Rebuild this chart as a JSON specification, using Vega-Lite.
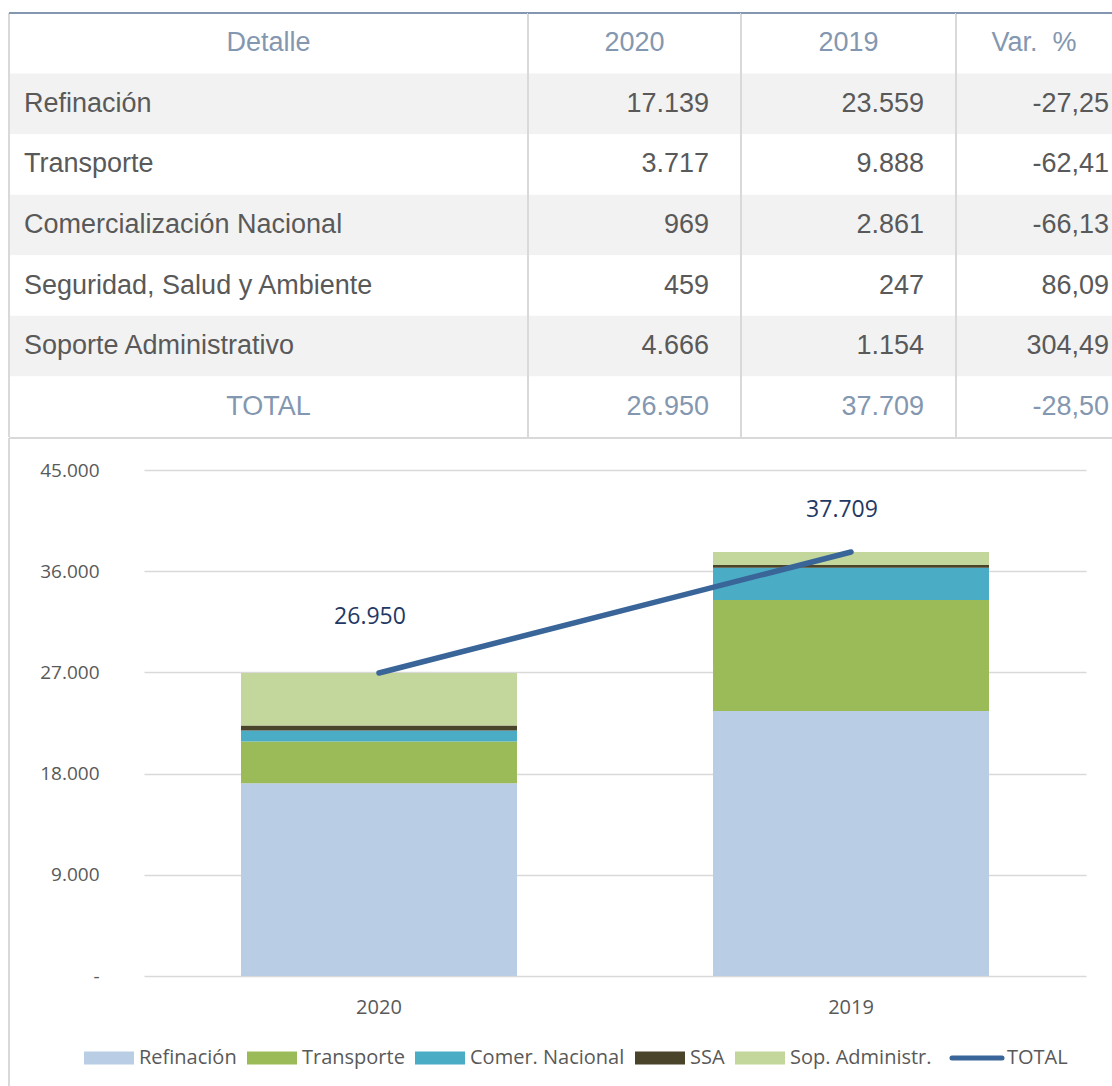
{
  "$schema": "https://vega.github.io/schema/vega-lite/v6.json",
  "padding": {"left": 8, "top": 12, "right": 0, "bottom": 0},
  "spacing": -1,
  "datasets": {
    "costs": [
      {"detalle": "Refinación", "short": "Refinación", "k": 1, "2020": 17139, "2019": 23559, "var": -27.25},
      {"detalle": "Transporte", "short": "Transporte", "k": 2, "2020": 3717, "2019": 9888, "var": -62.41},
      {"detalle": "Comercialización Nacional", "short": "Comer. Nacional", "k": 3, "2020": 969, "2019": 2861, "var": -66.13},
      {"detalle": "Seguridad, Salud y Ambiente", "short": "SSA", "k": 4, "2020": 459, "2019": 247, "var": 86.09},
      {"detalle": "Soporte Administrativo", "short": "Sop. Administr.", "k": 5, "2020": 4666, "2019": 1154, "var": 304.49},
      {"detalle": "TOTAL", "short": "TOTAL", "k": 6, "2020": 26950, "2019": 37709, "var": -28.5}
    ]
  },
  "vconcat": [
    {
      "hconcat": [
        {
          "width": 519, "height": 424,
          "layer": [
            {"data": {"name": "costs"}, "mark": {"type": "rect"},
             "encoding": {
               "y": {"field": "detalle", "type": "nominal", "scale": {"domain": ["Detalle", "Refinación", "Transporte", "Comercialización Nacional", "Seguridad, Salud y Ambiente", "Soporte Administrativo", "TOTAL"], "paddingInner": 0, "paddingOuter": 0}, "axis": null},
               "x": {"value": 0}, "x2": {"value": "width"},
               "fill": {"condition": {"test": "indexof(['Refinación','Comercialización Nacional','Soporte Administrativo'], datum.detalle) >= 0", "value": "#F2F2F2"}, "value": "#FFFFFF"}
             }},
            {"data": {"values": [{}]}, "mark": {"type": "text", "font": "Liberation Sans", "fontSize": 27, "color": "#8497B0", "baseline": "middle"},
             "encoding": {"y": {"datum": "Detalle", "type": "nominal"}, "text": {"value": "Detalle"}}},
            {"data": {"name": "costs"}, "transform": [{"filter": "datum.detalle !== 'TOTAL'"}],
             "mark": {"type": "text", "font": "Liberation Sans", "fontSize": 27, "color": "#595959", "baseline": "middle", "align": "left", "x": 0, "dx": 15},
             "encoding": {"y": {"field": "detalle", "type": "nominal"}, "text": {"field": "detalle"}}},
            {"data": {"name": "costs"}, "transform": [{"filter": "datum.detalle === 'TOTAL'"}],
             "mark": {"type": "text", "font": "Liberation Sans", "fontSize": 27, "color": "#8497B0", "baseline": "middle", "align": "center"},
             "encoding": {"y": {"field": "detalle", "type": "nominal"}, "text": {"field": "detalle"}}},
            {"data": {"values": [{}]}, "mark": {"type": "rule", "color": "#D9D9D9", "strokeWidth": 2}, "encoding": {"x": {"value": 0}}},
            {"data": {"values": [{}]}, "mark": {"type": "rule", "color": "#8497B0", "strokeWidth": 2}, "encoding": {"y": {"value": 0}}}
          ]
        },
        {
          "width": 213, "height": 424,
          "layer": [
            {"data": {"name": "costs"}, "mark": {"type": "rect"},
             "encoding": {
               "y": {"field": "detalle", "type": "nominal", "scale": {"domain": ["Detalle", "Refinación", "Transporte", "Comercialización Nacional", "Seguridad, Salud y Ambiente", "Soporte Administrativo", "TOTAL"], "paddingInner": 0, "paddingOuter": 0}, "axis": null},
               "x": {"value": 0}, "x2": {"value": "width"},
               "fill": {"condition": {"test": "indexof(['Refinación','Comercialización Nacional','Soporte Administrativo'], datum.detalle) >= 0", "value": "#F2F2F2"}, "value": "#FFFFFF"}
             }},
            {"data": {"values": [{}]}, "mark": {"type": "text", "font": "Liberation Sans", "fontSize": 27, "color": "#8497B0", "baseline": "middle"},
             "encoding": {"y": {"datum": "Detalle", "type": "nominal"}, "text": {"value": "2020"}}},
            {"data": {"name": "costs"},
             "mark": {"type": "text", "font": "Liberation Sans", "fontSize": 27, "baseline": "middle", "align": "right", "x": "width", "dx": -32},
             "encoding": {"y": {"field": "detalle", "type": "nominal"}, "text": {"field": "2020", "type": "quantitative", "format": ",d"},
               "color": {"condition": {"test": "datum.detalle === 'TOTAL'", "value": "#8497B0"}, "value": "#595959"}}},
            {"data": {"values": [{}]}, "mark": {"type": "rule", "color": "#D9D9D9", "strokeWidth": 2}, "encoding": {"x": {"value": 0}}},
            {"data": {"values": [{}]}, "mark": {"type": "rule", "color": "#8497B0", "strokeWidth": 2}, "encoding": {"y": {"value": 0}}}
          ]
        },
        {
          "width": 215, "height": 424,
          "layer": [
            {"data": {"name": "costs"}, "mark": {"type": "rect"},
             "encoding": {
               "y": {"field": "detalle", "type": "nominal", "scale": {"domain": ["Detalle", "Refinación", "Transporte", "Comercialización Nacional", "Seguridad, Salud y Ambiente", "Soporte Administrativo", "TOTAL"], "paddingInner": 0, "paddingOuter": 0}, "axis": null},
               "x": {"value": 0}, "x2": {"value": "width"},
               "fill": {"condition": {"test": "indexof(['Refinación','Comercialización Nacional','Soporte Administrativo'], datum.detalle) >= 0", "value": "#F2F2F2"}, "value": "#FFFFFF"}
             }},
            {"data": {"values": [{}]}, "mark": {"type": "text", "font": "Liberation Sans", "fontSize": 27, "color": "#8497B0", "baseline": "middle"},
             "encoding": {"y": {"datum": "Detalle", "type": "nominal"}, "text": {"value": "2019"}}},
            {"data": {"name": "costs"},
             "mark": {"type": "text", "font": "Liberation Sans", "fontSize": 27, "baseline": "middle", "align": "right", "x": "width", "dx": -32},
             "encoding": {"y": {"field": "detalle", "type": "nominal"}, "text": {"field": "2019", "type": "quantitative", "format": ",d"},
               "color": {"condition": {"test": "datum.detalle === 'TOTAL'", "value": "#8497B0"}, "value": "#595959"}}},
            {"data": {"values": [{}]}, "mark": {"type": "rule", "color": "#D9D9D9", "strokeWidth": 2}, "encoding": {"x": {"value": 0}}},
            {"data": {"values": [{}]}, "mark": {"type": "rule", "color": "#8497B0", "strokeWidth": 2}, "encoding": {"y": {"value": 0}}}
          ]
        },
        {
          "width": 156, "height": 424,
          "layer": [
            {"data": {"name": "costs"}, "mark": {"type": "rect"},
             "encoding": {
               "y": {"field": "detalle", "type": "nominal", "scale": {"domain": ["Detalle", "Refinación", "Transporte", "Comercialización Nacional", "Seguridad, Salud y Ambiente", "Soporte Administrativo", "TOTAL"], "paddingInner": 0, "paddingOuter": 0}, "axis": null},
               "x": {"value": 0}, "x2": {"value": "width"},
               "fill": {"condition": {"test": "indexof(['Refinación','Comercialización Nacional','Soporte Administrativo'], datum.detalle) >= 0", "value": "#F2F2F2"}, "value": "#FFFFFF"}
             }},
            {"data": {"values": [{}]}, "mark": {"type": "text", "font": "Liberation Sans", "fontSize": 27, "color": "#8497B0", "baseline": "middle"},
             "encoding": {"y": {"datum": "Detalle", "type": "nominal"}, "text": {"value": "Var. \u00a0%"}}},
            {"data": {"name": "costs"},
             "mark": {"type": "text", "font": "Liberation Sans", "fontSize": 27, "baseline": "middle", "align": "right", "x": "width", "dx": -3},
             "encoding": {"y": {"field": "detalle", "type": "nominal"}, "text": {"field": "var", "type": "quantitative", "format": ".2f"},
               "color": {"condition": {"test": "datum.detalle === 'TOTAL'", "value": "#8497B0"}, "value": "#595959"}}},
            {"data": {"values": [{}]}, "mark": {"type": "rule", "color": "#D9D9D9", "strokeWidth": 2}, "encoding": {"x": {"value": 0}}},
            {"data": {"values": [{}]}, "mark": {"type": "rule", "color": "#8497B0", "strokeWidth": 2}, "encoding": {"y": {"value": 0}}}
          ]
        }
      ],
      "spacing": 0,
      "bounds": "flush"
    },
    {
      "width": 1103,
      "height": 648,
      "layer": [
        {"data": {"values": [{}]}, "mark": {"type": "rule", "color": "#D9D9D9", "strokeWidth": 2}, "encoding": {"x": {"value": 0}}},
        {"data": {"values": [{}]}, "mark": {"type": "rule", "color": "#D9D9D9", "strokeWidth": 2}, "encoding": {"y": {"value": 0}}},
        {
          "data": {"name": "costs"},
          "transform": [{"filter": "datum.detalle !== 'TOTAL'"}, {"fold": ["2020", "2019"], "as": ["year", "value"]}],
          "mark": {"type": "bar"},
          "encoding": {
            "x": {"field": "year", "type": "nominal", "scale": {"domain": ["2020", "2019"], "range": [135, 1077], "paddingInner": 0.4153, "paddingOuter": 0.2055},
                  "axis": {"title": null, "domain": false, "ticks": false, "labelAngle": 0, "offset": -79, "labelPadding": 0, "labelBaseline": "middle", "labelFont": "Open Sans", "labelFontSize": 20, "labelColor": "#595959"}},
            "y": {"field": "value", "type": "quantitative", "stack": "zero", "scale": {"domain": [0, 45000], "range": [538, 32]},
                  "axis": {"title": null, "orient": "left", "offset": -135, "domain": false, "ticks": false, "labelPadding": 45, "values": [0, 9000, 18000, 27000, 36000, 45000], "format": ",d", "labelExpr": "datum.value === 0 ? '-\u00a0' : datum.label", "labelFont": "Open Sans", "labelFontSize": 19, "labelColor": "#595959", "grid": true, "gridColor": "#D9D9D9", "gridWidth": 1.5}},
            "color": {"field": "short", "type": "nominal",
                      "scale": {"domain": ["Refinación", "Transporte", "Comer. Nacional", "SSA", "Sop. Administr.", "TOTAL"], "range": ["#B9CDE5", "#9BBB59", "#4BACC6", "#4A452A", "#C3D69B", "#3A6599"]},
                      "legend": {"title": null, "orient": "none", "direction": "horizontal", "legendX": 75, "legendY": 1035, "labelFont": "Open Sans", "labelFontSize": 20, "labelColor": "#595959", "symbolSize": 2500, "labelOffset": 5, "columnPadding": 10, "symbolType": "M-1,-0.26H1V0.26H-1Z",
                        "encode": {
                          "symbols": {"update": {
                            "x": {"value": 25},
                            "shape": {"signal": "datum.value === 'TOTAL' ? 'stroke' : 'M-1,-0.26H1V0.26H-1Z'"},
                            "stroke": {"signal": "datum.value === 'TOTAL' ? '#3A6599' : 'transparent'"},
                            "strokeWidth": {"signal": "datum.value === 'TOTAL' ? 5 : 0"},
                            "strokeCap": {"value": "round"},
                            "opacity": {"value": 1}
                          }},
                          "labels": {"update": {"x": {"value": 55}}}
                        }}},
            "order": {"field": "k", "type": "quantitative"}
          }
        },
        {
          "data": {"name": "costs"},
          "transform": [{"filter": "datum.detalle === 'TOTAL'"}, {"fold": ["2020", "2019"], "as": ["year", "value"]}],
          "mark": {"type": "line", "strokeWidth": 5.5, "strokeCap": "round"},
          "encoding": {
            "x": {"field": "year", "type": "nominal"},
            "y": {"field": "value", "type": "quantitative"},
            "color": {"datum": "TOTAL"}
          }
        },
        {
          "data": {"name": "costs"},
          "transform": [{"filter": "datum.detalle === 'TOTAL'"}, {"fold": ["2020", "2019"], "as": ["year", "value"]}, {"filter": "datum.year === '2020'"}],
          "mark": {"type": "text", "font": "Open Sans", "fontSize": 23, "color": "#1F3864", "dx": -9, "dy": -56, "baseline": "middle"},
          "encoding": {
            "x": {"field": "year", "type": "nominal"},
            "y": {"field": "value", "type": "quantitative"},
            "text": {"field": "value", "type": "quantitative", "format": ",d"}
          }
        },
        {
          "data": {"name": "costs"},
          "transform": [{"filter": "datum.detalle === 'TOTAL'"}, {"fold": ["2020", "2019"], "as": ["year", "value"]}, {"filter": "datum.year === '2019'"}],
          "mark": {"type": "text", "font": "Open Sans", "fontSize": 23, "color": "#1F3864", "dx": -9, "dy": -42, "baseline": "middle"},
          "encoding": {
            "x": {"field": "year", "type": "nominal"},
            "y": {"field": "value", "type": "quantitative"},
            "text": {"field": "value", "type": "quantitative", "format": ",d"}
          }
        }
      ]
    }
  ],
  "config": {
    "view": {"stroke": null},
    "locale": {"number": {"decimal": ",", "thousands": ".", "grouping": [3], "currency": ["", ""], "minus": "-"}}
  }
}
